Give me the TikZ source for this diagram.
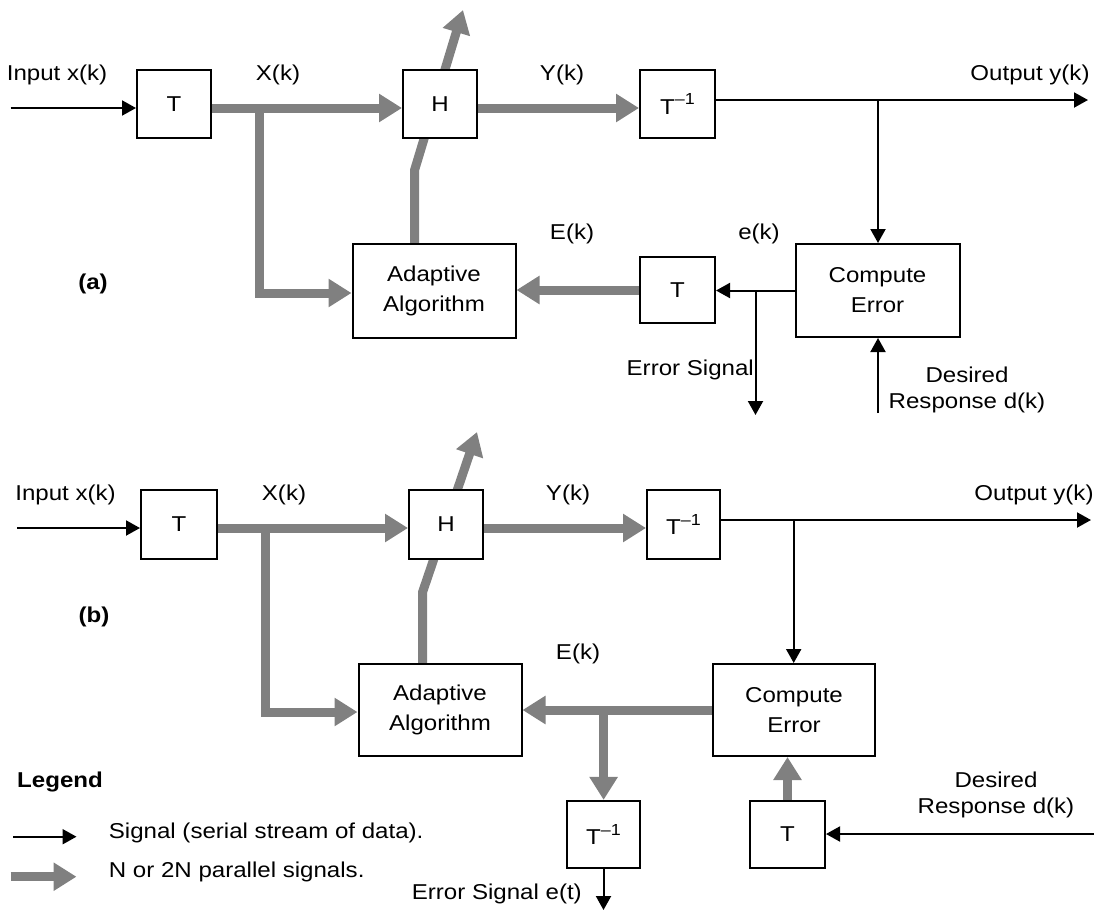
\documentclass[tikz,border=0pt]{standalone}
\usepackage{fontspec}
\setmainfont{Liberation Sans}[FakeStretch=1.12]
\usetikzlibrary{arrows.meta,calc}
\pgfdeclarelayer{bg}
\pgfsetlayers{bg,main}
\newcommand{\Tinv}{T\raisebox{0.42em}{\fontsize{16}{16}\selectfont –1}}
\begin{document}
\begin{tikzpicture}[x=1pt,y=-1pt,
  box/.style={draw,line width=2pt,fill=white,inner sep=0pt,align=center,
    font=\fontsize{21.5}{30}\selectfont},
  lbl/.style={inner sep=0pt,align=center,font=\fontsize{21.5}{26}\selectfont},
  sig/.style={line width=2pt,-{Triangle[length=14pt,width=15pt]}},
  par/.style={line width=9pt,draw=gray,line join=miter,-{Triangle[length=23pt,width=27pt]}}
]
\useasboundingbox (0,0) rectangle (1094,911);

% ---------------- (a) ----------------
\node[box,minimum width=74pt,minimum height=68pt] (TA) at (174,104) {T};
\node[box,minimum width=74pt,minimum height=68pt] (HA) at (440,104) {H};
\node[box,minimum width=75pt,minimum height=68pt] (TiA) at (677.5,104) {\Tinv};
\node[box,minimum width=163pt,minimum height=94pt] (AA) at (434,291) {Adaptive\\Algorithm};
\node[box,minimum width=75pt,minimum height=66pt] (TeA) at (677.5,290) {T};
\node[box,minimum width=164pt,minimum height=93pt] (CEA) at (877.5,290.5) {Compute\\Error};

\node[lbl] (inA) at (57,75) {Input x(k)};
\node[lbl] (XA) at (278,75) {X(k)};
\node[lbl] (YA) at (562,75) {Y(k)};
\node[lbl] (oA) at (1030,75) {Output y(k)};
\node[lbl] (EA) at (572,234) {E(k)};
\node[lbl] (eA) at (759,234) {e(k)};
\node[lbl,anchor=east] (esA) at (754,370) {Error Signal};
\node[lbl] (dA) at (967,390) {Desired\\Response d(k)};
\node[lbl,font=\fontsize{21.5}{26}\selectfont\bfseries] (labA) at (93,284) {(a)};

\coordinate (inAs) at (10.5,108);
\coordinate (yA) at (0,108);
\coordinate (outA) at (1088,100);
\coordinate (jA) at (878,100);
\coordinate (brA) at (259.5,104);
\coordinate (brA2) at (259.5,293);
\coordinate (eBrA) at (755.5,290);
\coordinate (eEndA) at (755.5,415);
\coordinate (dStartA) at (878,413);
\coordinate (upA1) at (414.6,244);
\coordinate (upA2) at (414.6,170);
\coordinate (upA3) at (463,10);

% ---------------- (b) ----------------
\node[box,minimum width=76pt,minimum height=69pt] (TB) at (179,524.5) {T};
\node[box,minimum width=74pt,minimum height=69pt] (HB) at (446,524.5) {H};
\node[box,minimum width=73pt,minimum height=69pt] (TiB) at (683.5,524.5) {\Tinv};
\node[box,minimum width=163pt,minimum height=92pt] (AB) at (440,710) {Adaptive\\Algorithm};
\node[box,minimum width=162pt,minimum height=92pt] (CEB) at (794,710) {Compute\\Error};
\node[box,minimum width=73pt,minimum height=67pt] (TiB2) at (603.5,834.4) {\Tinv};
\node[box,minimum width=75pt,minimum height=67pt] (TdB) at (787.5,834.4) {T};

\node[lbl] (inB) at (65.5,495) {Input x(k)};
\node[lbl] (XB) at (284,495) {X(k)};
\node[lbl] (YB) at (568,495) {Y(k)};
\node[lbl] (oB) at (1034,495) {Output y(k)};
\node[lbl] (EB) at (578,654) {E(k)};
\node[lbl] (dB) at (996,795) {Desired\\Response d(k)};
\node[lbl,anchor=east] (esB) at (582,894) {Error Signal e(t)};
\node[lbl,font=\fontsize{21.5}{26}\selectfont\bfseries] (labB) at (94,617) {(b)};

\coordinate (inBs) at (17,528);
\coordinate (yB) at (0,528);
\coordinate (outB) at (1091,520);
\coordinate (jB) at (793.7,520);
\coordinate (brB) at (265,524);
\coordinate (brB2) at (265,712);
\coordinate (eB) at (603.6,710);
\coordinate (eEndB) at (603.6,910);
\coordinate (dSB) at (1094,834);
\coordinate (upB1) at (422.6,664);
\coordinate (upB2) at (422.6,592);
\coordinate (upB3) at (477,432);

% ---------------- legend ----------------
\node[lbl,anchor=west,font=\fontsize{21.5}{26}\selectfont\bfseries] (leg) at (17,782) {Legend};
\node[lbl,anchor=west] (leg1) at (108.7,832.5) {Signal (serial stream of data).};
\node[lbl,anchor=west] (leg2) at (108.7,871.7) {N or 2N parallel signals.};
\coordinate (lg1a) at (13,836.7);
\coordinate (lg1b) at (76.5,836.7);
\coordinate (lg2a) at (10.5,876.7);
\coordinate (lg2b) at (76.5,876.7);

\begin{pgfonlayer}{bg}
% (a)
\draw[sig] (inAs) -- (inAs -| TA.west);
\draw[par] (TA.east |- yA) -- (HA.west |- yA);
\draw[par] (HA.east |- yA) -- (TiA.west |- yA);
\draw[par] (brA) -- (brA2) -- (brA2 -| AA.west);
\draw[par] (upA1) -- (upA2) -- (upA3);
\draw[sig] (TiA.east |- outA) -- (outA);
\draw[sig] (jA) -- (jA |- CEA.north);
\draw[sig] (CEA.west) -- (CEA.west -| TeA.east);
\draw[sig] (eBrA) -- (eEndA);
\draw[par] (TeA.west |- eBrA) -- (AA.east |- eBrA);
\draw[sig] (dStartA) -- (dStartA |- CEA.south);
% (b)
\draw[sig] (inBs) -- (inBs -| TB.west);
\draw[par] (TB.east |- yB) -- (HB.west |- yB);
\draw[par] (HB.east |- yB) -- (TiB.west |- yB);
\draw[par] (brB) -- (brB2) -- (brB2 -| AB.west);
\draw[par] (upB1) -- (upB2) -- (upB3);
\draw[sig] (TiB.east |- outB) -- (outB);
\draw[sig] (jB) -- (jB |- CEB.north);
\draw[par] (CEB.west) -- (CEB.west -| AB.east);
\draw[par] (eB) -- (eB |- TiB2.north);
\draw[sig] (TiB2.south) -- (TiB2.south |- eEndB);
\draw[par] (TdB.north) -- (TdB.north |- CEB.south);
\draw[sig] (dSB) -- (dSB -| TdB.east);
% legend
\draw[sig] (lg1a) -- (lg1b);
\draw[par] (lg2a) -- (lg2b);
\end{pgfonlayer}
\end{tikzpicture}
\end{document}
